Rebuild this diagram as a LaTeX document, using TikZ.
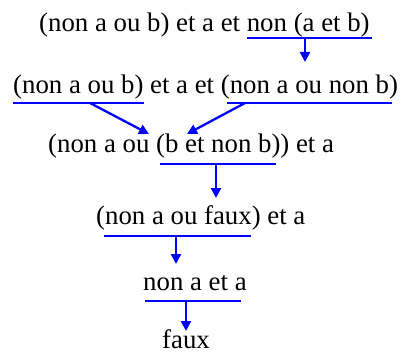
\documentclass[tikz,border=0pt]{standalone}
\usepackage{fontspec}
\setmainfont{Liberation Serif}
\usetikzlibrary{arrows.meta}

\begin{document}
\begin{tikzpicture}[x=1pt, y=-1pt, >={Triangle[length=10pt,width=10pt]},
  every node/.style={font=\fontsize{26.8}{32}\selectfont, inner sep=0pt, anchor=base west},
  souligne/.style={draw=blue, line width=2.3pt},
  fleche/.style={->, draw=blue, fill=blue, line width=2.3pt}]
\useasboundingbox (0,0) rectangle (403,355);

% Steps of the simplification
\node at (39,32) (e1) {(non a ou b) et a et non (a et b)};
\node at (13,94) (e2) {(non a ou b) et a et (non a ou non b)};
\node at (48,153) (e3) {(non a ou (b et non b)) et a};
\node at (96,224) (e4) {(non a ou faux) et a};
\node at (143,290) (e5) {non a et a};
\node at (162,348) (e6) {faux};

% Underlined parts
\draw[souligne] (247,38) -- (372,38);
\draw[souligne] (13,103) -- (144,103);
\draw[souligne] (227,103) -- (392,103);
\draw[souligne] (160,164) -- (276,164);
\draw[souligne] (104,236) -- (251,236);
\draw[souligne] (145,301) -- (241,301);

% Arrow ends
\coordinate (d1) at (305,38);   \coordinate (f1) at (305,62);
\coordinate (d2a) at (90,103);  \coordinate (f2a) at (149,134);
\coordinate (d2b) at (245,103); \coordinate (f2b) at (187,134);
\coordinate (d3) at (216,164);  \coordinate (f3) at (216,198);
\coordinate (d4) at (176,236);  \coordinate (f4) at (176,264);
\coordinate (d5) at (186,301);  \coordinate (f5) at (186,331);

% Rewriting arrows
\foreach \a/\b in {d1/f1, d2a/f2a, d2b/f2b, d3/f3, d4/f4, d5/f5} {
    \draw[fleche] (\a) -- (\b);
}
\end{tikzpicture}
\end{document}
